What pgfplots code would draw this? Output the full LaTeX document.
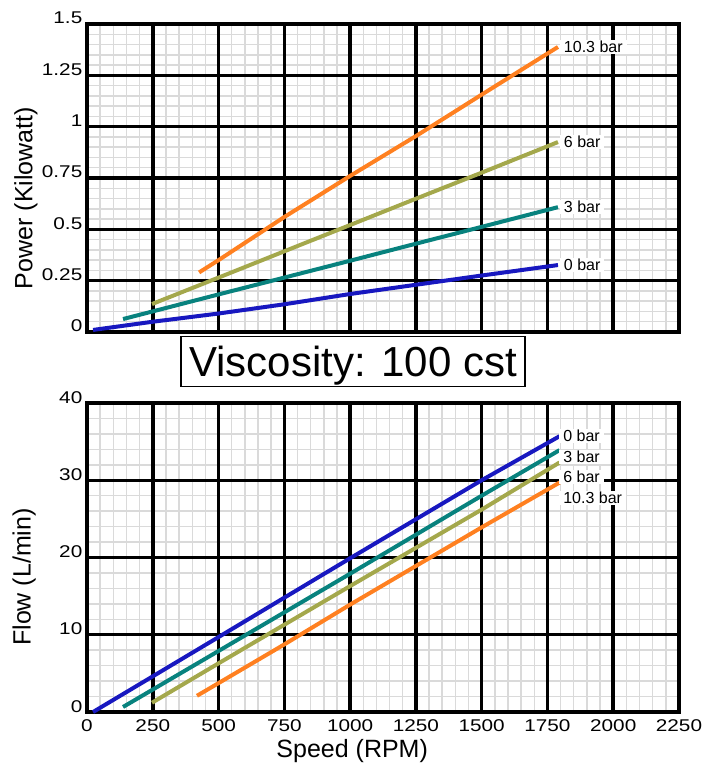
\documentclass[border=0pt]{standalone}
\usepackage{fontspec}
\setmainfont{Liberation Sans}
\newfontfamily\tickfont[FakeStretch=1.22]{Liberation Sans}
\usepackage{pgfplots}
\pgfplotsset{compat=1.18}
\definecolor{cblue}{HTML}{1818C0}
\definecolor{cteal}{HTML}{08827E}
\definecolor{colive}{HTML}{A4A84C}
\definecolor{corange}{HTML}{FF8020}
\definecolor{cgrid}{HTML}{DADADA}
\tikzset{lab/.style={anchor=west, fill=white, text=black, inner xsep=3pt, inner ysep=1pt, font=\fontsize{12}{14}\selectfont},
  maj/.style={black, line width=2.6pt}}
\pgfplotsset{
  myaxis/.style={
    scale only axis, width=444pt,
    xmin=0, xmax=2250,
    xtick={0,250,500,750,1000,1250,1500,1750,2000,2250},
    minor x tick num=4, minor y tick num=4,
    grid=minor,
    minor grid style={cgrid,line width=1.1pt},
    axis line style={black,line width=2.6pt},
    major tick length=0pt, minor tick length=0pt,
    tick style={draw=none},
    scaled ticks=false,
    ticklabel style={font=\tickfont\fontsize{12.75}{14}\selectfont},
    /pgf/number format/assume math mode=true,
    label style={font=\fontsize{18.75}{22}\selectfont},
    yticklabel style={anchor=base east},
    clip=false,
  },
}
\begin{document}
\begin{tikzpicture}
\useasboundingbox (0,0) rectangle (538.5pt,573pt);
% ---------------- Power ----------------
\begin{axis}[myaxis, at={(65.25pt,324pt)}, anchor=south west, height=231pt,
  ymin=0, ymax=1.5, ytick={0,0.25,0.5,0.75,1,1.25,1.5},
  yticklabels={0,0.25,0.5,0.75,1,1.25,1.5},
  xticklabels={},
  ylabel={Power (Kilowatt)},
  ylabel style={at={(axis description cs:-0.103,0.435)}, anchor=center}]
\pgfplotsinvokeforeach{250,500,750,1000,1250,1500,1750,2000}{\draw[maj] (axis cs:#1,0) -- (axis cs:#1,1.5);}
\pgfplotsinvokeforeach{0.25,0.5,0.75,1,1.25}{\draw[maj] (axis cs:0,#1) -- (axis cs:2250,#1);}
\addplot[cblue, line width=3pt] coordinates {(23,0.01) (250,0.05) (500,0.09) (750,0.135) (1000,0.185) (1250,0.23) (1500,0.275) (1790,0.326)} node[pos=1, lab] {0 bar};
\addplot[cteal, line width=3pt] coordinates {(137,0.063) (500,0.183) (750,0.265) (1000,0.347) (1250,0.43) (1500,0.512) (1790,0.608)} node[pos=1, lab] {3 bar};
\addplot[colive, line width=3pt] coordinates {(247,0.136) (500,0.265) (750,0.393) (1000,0.521) (1250,0.649) (1500,0.776) (1790,0.925)} node[pos=1, lab] {6 bar};
\addplot[corange, line width=3pt] coordinates {(426,0.29) (500,0.35) (750,0.56) (1000,0.76) (1250,0.954) (1500,1.156) (1790,1.388)} node[pos=1, lab] {10.3 bar};
\end{axis}
% ---------------- Flow ----------------
\begin{axis}[myaxis, at={(65.25pt,39pt)}, anchor=south west, height=231.75pt,
  ymin=0, ymax=40, ytick={0,10,20,30,40},
  yticklabels={0,10,20,30,40},
  xticklabels={0,250,500,750,1000,1250,1500,1750,2000,2250},
  xticklabel style={yshift=-2pt},
  xlabel={Speed (RPM)},
  xlabel style={at={(axis description cs:0.448,-0.146)}, anchor=base},
  ylabel={Flow (L/min)},
  ylabel style={at={(axis description cs:-0.106,0.437)}, anchor=center}]
\pgfplotsinvokeforeach{250,500,750,1000,1250,1500,1750,2000}{\draw[maj] (axis cs:#1,0) -- (axis cs:#1,40);}
\pgfplotsinvokeforeach{10,20,30}{\draw[maj] (axis cs:0,#1) -- (axis cs:2250,#1);}
\addplot[cblue, line width=3pt] coordinates {(23,0) (500,9.7) (1000,19.9) (1500,30.0) (1796,35.7)};
\addplot[cteal, line width=3pt] coordinates {(137,0.65) (500,7.9) (1000,17.9) (1500,28.0) (1796,33.9)};
\addplot[colive, line width=3pt] coordinates {(247,1.2) (500,6.3) (1000,16.3) (1500,26.2) (1796,32.3)};
\addplot[corange, line width=3pt] coordinates {(418,2.1) (500,3.74) (750,8.75) (1000,13.9) (1250,18.9) (1500,23.9) (1796,29.7)};
\node[lab] at (axis cs:1794,35.7) {0 bar};
\node[lab] at (axis cs:1794,33.0) {3 bar};
\node[lab] at (axis cs:1794,30.4) {6 bar};
\node[lab] at (axis cs:1794,27.7) {10.3 bar};
\end{axis}
% ---------------- title box ----------------
\node[draw, line width=1.1pt, minimum width=258pt, minimum height=37.5pt, inner sep=0pt,
  text height=22.5pt, text depth=0pt, font=\fontsize{31.5}{36}\selectfont]
  at (264.75pt,302pt) {Viscosity: 100 cst};
\end{tikzpicture}
\end{document}
